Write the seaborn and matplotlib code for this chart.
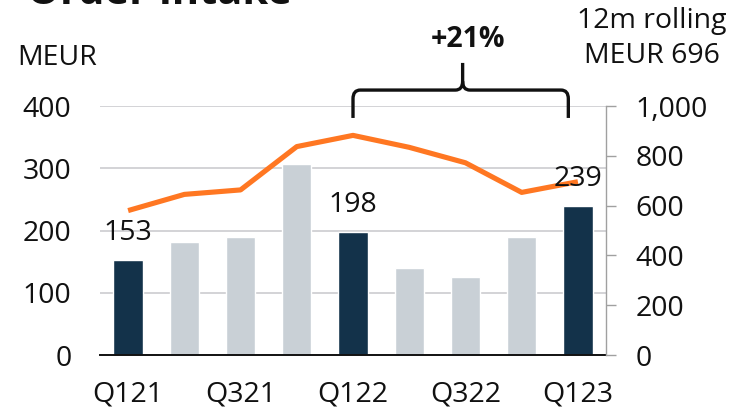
import numpy as np
import pandas as pd
import matplotlib
matplotlib.use("Agg")
import matplotlib.pyplot as plt
import matplotlib.ticker as mticker
from matplotlib.path import Path
from matplotlib.patches import PathPatch
import matplotlib.transforms as mtransforms
import seaborn as sns

# ---- data ----
quarters = ["Q121", "Q221", "Q321", "Q421", "Q122", "Q222", "Q322", "Q422", "Q123"]
order_intake = [153, 182, 190, 307, 198, 139, 125, 190, 239]
rolling_12m = [580, 645, 663, 837, 882, 834, 772, 653, 696]
highlight = [True, False, False, False, True, False, False, False, True]
xtick_labels = ["Q121", "Q321", "Q122", "Q322", "Q123"]
left_ticks = [0, 100, 200, 300, 400]
right_ticks = [0, 200, 400, 600, 800, 1000]
title = "Order intake"
left_unit = "MEUR"
right_unit_1 = "12m rolling"
right_unit_2 = "MEUR 696"
growth_label = "+21%"

DARK = "#13324A"
GREY = "#C9D0D6"
ORANGE = "#FF7722"
TXT = "#111111"
FS = 20.5

sns.set_theme(style="white")
plt.rcParams["font.family"] = ["Open Sans", "DejaVu Sans"]

W, H = 733, 417
fig = plt.figure(figsize=(W / 100, H / 100), dpi=100)
ax_l, ax_r, ax_b, ax_t = 100, 606, 355, 106
ax = fig.add_axes([ax_l / W, 1 - ax_b / H, (ax_r - ax_l) / W, (ax_b - ax_t) / H])

df = pd.DataFrame({"quarter": quarters, "value": order_intake})
palette = {q: (DARK if h else GREY) for q, h in zip(quarters, highlight)}
sns.barplot(data=df, x="quarter", y="value", hue="quarter", palette=palette,
            width=0.52, legend=False, ax=ax, saturation=1, zorder=2)

ax.set_xlim(-0.5, len(quarters) - 0.5)
ax.set_ylim(0, 400)
ax.set_yticks(left_ticks)
ax.set_xticks([quarters.index(q) for q in xtick_labels])
ax.set_xticklabels(xtick_labels)
ax.set_xlabel("")
ax.set_ylabel("")
ax.grid(axis="y", color="#C8C8CC", lw=1.1, zorder=0)
ax.grid(axis="x", visible=False)
ax.set_axisbelow(True)
for s in ["left", "right", "top"]:
    ax.spines[s].set_visible(False)
ax.spines["bottom"].set_color("#111111")
ax.spines["bottom"].set_linewidth(1.4)
ax.tick_params(axis="y", length=0, pad=20.5, labelsize=FS, labelcolor=TXT)
ax.tick_params(axis="x", length=0, pad=18.5, labelsize=FS, labelcolor=TXT)

ax2 = ax.twinx()
sns.lineplot(x=np.arange(len(quarters)), y=rolling_12m, ax=ax2, color=ORANGE,
             lw=3.7, solid_capstyle="butt", zorder=3)
ax2.set_ylim(0, 1000)
ax2.set_yticks(right_ticks)
ax2.yaxis.set_major_formatter(mticker.FuncFormatter(lambda v, p: f"{int(v):,}"))
ax2.grid(False)
for s in ["left", "top", "bottom"]:
    ax2.spines[s].set_visible(False)
ax2.spines["right"].set_color("#A0A0A0")
ax2.spines["right"].set_linewidth(1.0)
ax2.tick_params(axis="y", direction="out", length=7.5, width=1.0, color="#A0A0A0",
                pad=14, labelsize=FS, labelcolor=TXT)
ax2.set_xlim(-0.5, len(quarters) - 0.5)

# data labels on highlighted bars
for i, (v, h) in enumerate(zip(order_intake, highlight)):
    if h:
        ax2.annotate(str(v), xy=(i, v), xycoords=ax.transData, xytext=(0, 14.5),
                     textcoords="offset points", ha="center", va="baseline",
                     fontsize=FS, color=TXT, zorder=5)

# brace (x in data, y in axes fraction)
tr = mtransforms.blended_transform_factory(ax.transData, ax.transAxes)
x0, x1, xm = 4.0, 7.83, 5.95
yb, yt, ys = 0.952, 1.064, 1.173
rx, ry = 0.13, 0.035
verts = [
    (x0, yb), (x0, yt - ry), (x0, yt), (x0 + rx, yt),
    (xm - rx, yt), (xm, yt), (xm, yt + ry), (xm, ys),
    (xm, yt + ry), (xm, yt), (xm + rx, yt),
    (x1 - rx, yt), (x1, yt), (x1, yt - ry), (x1, yb),
]
codes = [Path.MOVETO, Path.LINETO, Path.CURVE3, Path.CURVE3,
         Path.LINETO, Path.CURVE3, Path.CURVE3, Path.LINETO,
         Path.MOVETO, Path.CURVE3, Path.CURVE3,
         Path.LINETO, Path.CURVE3, Path.CURVE3, Path.LINETO]
brace = PathPatch(Path(verts, codes), transform=tr, fill=False, lw=2.4,
                  edgecolor=TXT, clip_on=False, capstyle="butt", joinstyle="round")
ax2.add_patch(brace)

# texts
fig.text(27 / W, 1 - 4.5 / H, title, fontsize=30, fontweight="bold", color=TXT,
         ha="left", va="baseline")
fig.text(17 / W, 1 - 65 / H, left_unit, fontsize=FS, color=TXT, ha="left", va="baseline")
fig.text(652 / W, 1 - 28 / H, right_unit_1, fontsize=FS, color=TXT, ha="center", va="baseline")
fig.text(652 / W, 1 - 63 / H, right_unit_2, fontsize=FS, color=TXT, ha="center", va="baseline")
fig.text(468 / W, 1 - 47 / H, growth_label, fontsize=FS, fontweight="bold", color=TXT,
         ha="center", va="baseline")

fig.savefig("out.png", dpi=100)
